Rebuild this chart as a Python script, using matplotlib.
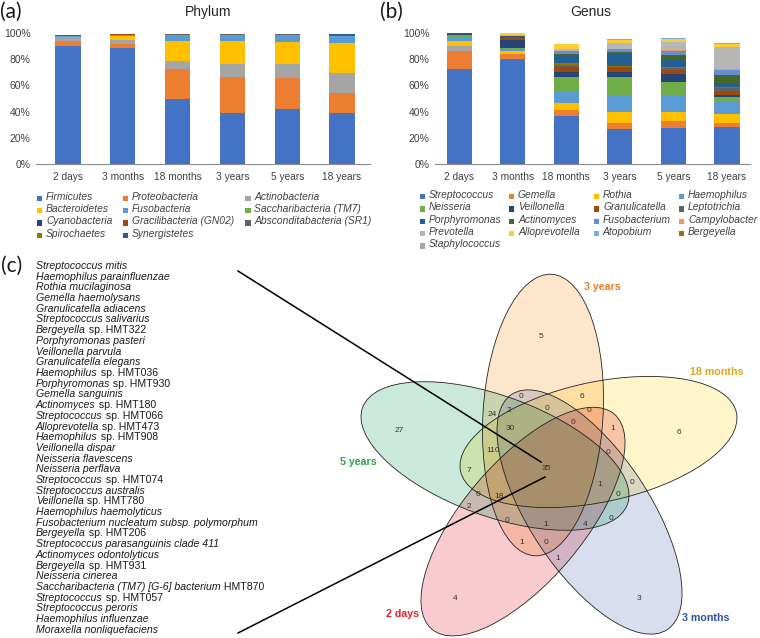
import numpy as np
import matplotlib
matplotlib.use('Agg')
import matplotlib.pyplot as plt
from matplotlib.colors import to_rgb
from matplotlib.patches import Ellipse, Rectangle

plt.rcParams['font.family'] = ['Liberation Sans', 'DejaVu Sans']

W, H = 760, 638

ages = ['2 days', '3 months', '18 months', '3 years', '5 years', '18 years']

# ---- (a) phylum, % relative abundance per age group
phylum_names = ['Firmicutes', 'Proteobacteria', 'Actinobacteria', 'Bacteroidetes',
                'Fusobacteria', 'Saccharibacteria (TM7)', 'Cyanobacteria',
                'Gracilibacteria (GN02)', 'Absconditabacteria (SR1)', 'Spirochaetes',
                'Synergistetes']
firmicutes = [90.0, 88.6, 49.4, 39.2, 41.8, 39.2]
proteobacteria = [4.0, 3.2, 22.9, 27.1, 23.8, 15.0]
actinobacteria = [2.6, 2.5, 6.4, 10.4, 11.1, 15.4]
bacteroidetes = [0.6, 3.6, 15.4, 17.5, 16.5, 22.6]
fusobacteria = [0.3, 0.4, 3.8, 3.6, 4.8, 5.5]
saccharibacteria = [0.2, 0.3, 0.6, 0.6, 0.5, 0.2]
cyanobacteria = [0.3, 0.2, 0.2, 0.1, 0.1, 0.1]
gracilibacteria = [0.1, 0.1, 0.1, 0.2, 0.2, 0.1]
absconditabacteria = [0.2, 0.2, 0.2, 0.3, 0.3, 0.3]
spirochaetes = [0.3, 0.1, 0.1, 0.1, 0.1, 0.1]
synergistetes = [0.1, 0.1, 0.1, 0.1, 0.1, 0.5]
phylum_values = [firmicutes, proteobacteria, actinobacteria, bacteroidetes, fusobacteria,
                 saccharibacteria, cyanobacteria, gracilibacteria, absconditabacteria,
                 spirochaetes, synergistetes]
phylum_colors = ['#4472C4', '#ED7D31', '#A5A5A5', '#FFC000', '#5B9BD5', '#70AD47',
                 '#264478', '#9E480E', '#636363', '#997300', '#255E91']

# ---- (b) genus, stacked bottom-up in this order
streptococcus = [72.3, 80.5, 36.9, 26.7, 27.7, 28.4]
gemella = [14.0, 3.3, 4.3, 4.8, 5.1, 3.1]
staphylococcus = [3.9, 0.2, 0.0, 0.0, 0.0, 0.0]
rothia = [3.8, 2.4, 5.0, 7.9, 7.2, 7.0]
haemophilus = [2.2, 1.3, 9.0, 12.6, 12.4, 8.5]
neisseria = [2.0, 1.0, 11.0, 14.2, 10.5, 4.5]
veillonella = [0.7, 6.3, 4.3, 4.3, 5.7, 1.2]
granulicatella = [0.5, 1.1, 3.8, 3.0, 3.3, 3.2]
leptotrichia = [0.0, 0.1, 1.3, 0.8, 1.3, 2.2]
bergeyella = [0.0, 0.1, 1.6, 0.7, 1.2, 0.4]
porphyromonas = [0.3, 1.1, 5.8, 8.7, 5.1, 3.0]
actinomyces = [0.1, 0.3, 1.3, 1.5, 3.8, 6.6]
fusobacterium = [0.1, 0.2, 1.8, 2.4, 3.1, 3.3]
campylobacter = [0.0, 0.1, 0.3, 0.2, 0.3, 1.2]
prevotella = [0.0, 0.2, 1.3, 4.3, 6.8, 16.4]
alloprevotella = [0.0, 1.6, 3.9, 2.9, 2.3, 2.6]
atopobium = [0.0, 0.2, 0.3, 0.3, 0.2, 0.7]

genus = {
    'Streptococcus': (streptococcus, '#4472C4'),
    'Gemella': (gemella, '#ED7D31'),
    'Staphylococcus': (staphylococcus, '#A5A5A5'),
    'Rothia': (rothia, '#FFC000'),
    'Haemophilus': (haemophilus, '#5B9BD5'),
    'Neisseria': (neisseria, '#70AD47'),
    'Veillonella': (veillonella, '#264478'),
    'Granulicatella': (granulicatella, '#9E480E'),
    'Leptotrichia': (leptotrichia, '#636363'),
    'Bergeyella': (bergeyella, '#997300'),
    'Porphyromonas': (porphyromonas, '#255E91'),
    'Actinomyces': (actinomyces, '#43682B'),
    'Fusobacterium': (fusobacterium, '#698ED0'),
    'Campylobacter': (campylobacter, '#F1975A'),
    'Prevotella': (prevotella, '#B7B7B7'),
    'Alloprevotella': (alloprevotella, '#FFCD33'),
    'Atopobium': (atopobium, '#7CAFDD'),
}
genus_legend_order = ['Streptococcus', 'Gemella', 'Rothia', 'Haemophilus',
                      'Neisseria', 'Veillonella', 'Granulicatella', 'Leptotrichia',
                      'Porphyromonas', 'Actinomyces', 'Fusobacterium', 'Campylobacter',
                      'Prevotella', 'Alloprevotella', 'Atopobium', 'Bergeyella',
                      'Staphylococcus']

# ---- (c) core species and venn counts
core_species = [
    ('Streptococcus mitis', ''), ('Haemophilus parainfluenzae', ''),
    ('Rothia mucilaginosa', ''), ('Gemella haemolysans', ''),
    ('Granulicatella adiacens', ''), ('Streptococcus salivarius', ''),
    ('Bergeyella', ' sp. HMT322'), ('Porphyromonas pasteri', ''),
    ('Veillonella parvula', ''), ('Granulicatella elegans', ''),
    ('Haemophilus', ' sp. HMT036'), ('Porphyromonas', ' sp. HMT930'),
    ('Gemella sanguinis', ''), ('Actinomyces', ' sp. HMT180'),
    ('Streptococcus', ' sp. HMT066'), ('Alloprevotella', ' sp. HMT473'),
    ('Haemophilus', ' sp. HMT908'), ('Veillonella dispar', ''),
    ('Neisseria flavescens', ''), ('Neisseria perflava', ''),
    ('Streptococcus', ' sp. HMT074'), ('Streptococcus australis', ''),
    ('Veillonella', ' sp. HMT780'), ('Haemophilus haemolyticus', ''),
    ('Fusobacterium nucleatum subsp. polymorphum', ''), ('Bergeyella', ' sp. HMT206'),
    ('Streptococcus parasanguinis clade 411', ''), ('Actinomyces odontolyticus', ''),
    ('Bergeyella', ' sp. HMT931'), ('Neisseria cinerea', ''),
    ('Saccharibacteria (TM7) [G-6] bacterium', ' HMT870'), ('Streptococcus', ' sp. HMT057'),
    ('Streptococcus peroris', ''), ('Haemophilus influenzae', ''),
    ('Moraxella nonliquefaciens', ''),
]

venn_sets = ['3 years', '18 months', '3 months', '2 days', '5 years']
venn_fill = ['#FDE5C8', '#FFF6C8', '#D6DCEE', '#F7C8CD', '#C8E8D9']
venn_label_color = ['#EE7D22', '#D9A61E', '#2A4FA5', '#E4202A', '#2FA346']
venn_counts = [5, 0, 6, 24, 2, 0, 0, 0, 30, 27, 1, 6, 110, 0, 7, 35,
               1, 0, 0, 18, 0, 2, 0, 0, 1, 4, 1, 0, 1, 4, 3]
# layout: ellipse centre (px), long-axis angle (deg), count anchors, set-name anchors
venn_ellipse = [(543.0, 415.0, 86.5), (598.5, 442.0, 12.0), (589.5, 512.0, -56.5),
                (523.0, 521.6, -130.3), (495.0, 456.0, 159.9)]
venn_count_xy = [(541, 336), (521, 397), (582, 396), (492, 414), (509, 410),
                 (547, 409), (589, 410), (573, 423), (510, 429), (399, 431),
                 (613, 428), (679, 433), (493, 450), (608, 453), (469, 470),
                 (546, 468), (600, 484), (632, 482), (478, 494), (499, 497),
                 (618, 495), (469, 507), (611, 518), (507, 520), (546, 524),
                 (585, 525), (522, 542), (546, 543), (558, 558), (455, 598),
                 (639, 599)]
venn_name_xy = [(602, 287), (717, 372), (706, 618), (402, 614), (358, 462)]

fig = plt.figure(figsize=(W / 100, H / 100), dpi=100)
txt = '#404040'


def stacked(ax, series, colors, width, xlim):
    x = np.arange(len(ages))
    bottom = np.zeros(len(ages))
    for vals, c in zip(series, colors):
        ax.bar(x, vals, bottom=bottom, width=width, color=c, linewidth=0)
        bottom += np.array(vals)
    ax.set_ylim(0, 100)
    ax.set_xlim(*xlim)
    ax.set_yticks(range(0, 101, 20))
    ax.set_yticklabels([f'{v}%' for v in range(0, 101, 20)])
    ax.set_xticks(x)
    ax.set_xticklabels(ages)
    ax.tick_params(length=0, colors=txt)
    ax.tick_params(axis='y', labelsize=7.5, pad=4)
    ax.tick_params(axis='x', labelsize=7.3, pad=6)
    for s in ['left', 'right', 'top']:
        ax.spines[s].set_visible(False)
    ax.spines['bottom'].set_color('#8C8C8C')
    ax.spines['bottom'].set_linewidth(0.8)


ax_a = fig.add_axes([36 / W, 1 - 164 / H, 334 / W, 131 / H])
stacked(ax_a, phylum_values, phylum_colors, 0.46, (-0.584, 5.51))

ax_b = fig.add_axes([435 / W, 1 - 164 / H, 315 / W, 131 / H])
stacked(ax_b, [genus[g][0] for g in genus], [genus[g][1] for g in genus], 0.47, (-0.45, 5.43))

# overlay in pixel coordinates for titles, legends and panel (c)
ov = fig.add_axes([0, 0, 1, 1])

ov.text(208, 12, 'Phylum', ha='center', va='center', fontsize=10, color='#262626')
ov.text(591, 12, 'Genus', ha='center', va='center', fontsize=10, color='#262626')
for lab, x, y in [('(a)', 0, 12), ('(b)', 380, 12), ('(c)', 1, 266)]:
    ov.text(x, y, lab, ha='left', va='center', fontsize=15, family='Lato', color='#1a1a1a')


def legend(names, colors, col_x, row_y, ncol):
    for i, (n, c) in enumerate(zip(names, colors)):
        cx, y = col_x[i % ncol], row_y[i // ncol]
        ov.add_patch(Rectangle((cx - 2.7, y - 1), 5.4, 5.4, color=c, lw=0))
        ov.text(cx + 6.5, y, n, ha='left', va='center', fontsize=7.4,
                style='italic', color=txt)


legend(phylum_names, phylum_colors, [39.5, 125.5, 248], [196.7, 209.0, 221.3, 233.6], 3)
legend(genus_legend_order, [genus[g][1] for g in genus_legend_order],
       [422.5, 511.5, 596.5, 681.5], [195, 207.3, 219.6, 231.9, 244.2], 4)

# venn fills: overlapping colours multiply, like the printed diagram
semi_a, semi_b = 141, 60
X, Y = np.meshgrid(np.arange(W) + 0.5, np.arange(H) + 0.5)
rgb = np.ones((H, W, 3))
inside_any = np.zeros((H, W), dtype=bool)
for (ex, ey, ang), fc in zip(venn_ellipse, venn_fill):
    t = np.radians(ang)
    dx, dy = X - ex, -(Y - ey)
    u = dx * np.cos(t) + dy * np.sin(t)
    v = -dx * np.sin(t) + dy * np.cos(t)
    inside = (u / semi_a) ** 2 + (v / semi_b) ** 2 <= 1
    rgb[inside] *= np.array(to_rgb(fc)) ** 0.92
    inside_any |= inside
rgba = np.dstack([rgb, inside_any.astype(float)])
ov.imshow(rgba, extent=(0, W, H, 0), interpolation='bilinear', aspect='auto')

for ex, ey, ang in venn_ellipse:
    ov.add_patch(Ellipse((ex, ey), 2 * semi_a, 2 * semi_b, angle=-ang,
                         facecolor='none', edgecolor='#222222', lw=0.6))

for n, (x, y) in zip(venn_counts, venn_count_xy):
    ov.text(x, y, str(n), ha='center', va='center', fontsize=6, color='#333333')
for name, (x, y), c in zip(venn_sets, venn_name_xy, venn_label_color):
    ov.text(x, y, name, ha='center', va='center', fontsize=7.7, fontweight='bold', color=c)

ov.set_xlim(0, W)
ov.set_ylim(H, 0)
ov.axis('off')

# species list
renderer = fig.canvas.get_renderer()
for i, (ital, plain) in enumerate(core_species):
    y = 266 + i * 10.7
    t = ov.text(36, y, ital, ha='left', va='center', fontsize=7.6, style='italic',
                color='#1a1a1a')
    if plain:
        w = t.get_window_extent(renderer).width
        ov.text(36 + w, y, plain, ha='left', va='center', fontsize=7.6, color='#1a1a1a')

ov.plot([238, 541], [271, 462], color='black', lw=1.1)
ov.plot([238, 545], [633, 477], color='black', lw=1.1)

fig.savefig('out.png', dpi=100)
